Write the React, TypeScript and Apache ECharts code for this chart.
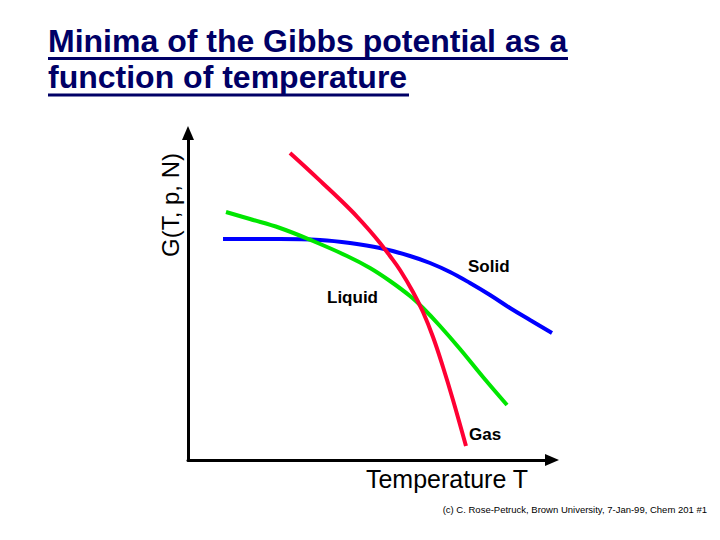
import React, { useEffect, useRef } from "react";
import * as echarts from "echarts";

// ---- data (arbitrary units) ----
const titleLines = ["Minima of the Gibbs potential as a", "function of temperature"];
const xAxisTitle = "Temperature T";
const yAxisTitle = "G(T, p, N)";
const footerText = "(c) C. Rose-Petruck, Brown University, 7-Jan-99, Chem 201 #1";
const phaseNames = ["Solid", "Liquid", "Gas"];

const gasT = [28.02, 32.69, 37.09, 41.76, 46.43, 50.0, 52.75, 55.49, 58.24, 61.81, 64.56, 67.31, 70.05, 72.8, 76.37];
const gasG = [93.88, 89.14, 84.56, 79.66, 74.46, 70.03, 66.36, 62.39, 58.1, 51.38, 45.26, 37.61, 28.44, 18.35, 4.28];

const liquidT = [10.44, 17.03, 25.27, 34.34, 43.68, 50.0, 55.49, 60.99, 64.56, 69.23, 74.73, 81.04, 87.64];
const liquidG = [75.84, 73.7, 70.95, 66.97, 62.39, 58.72, 54.74, 50.15, 46.48, 40.98, 33.94, 25.38, 16.82];

const solidT = [9.62, 25.27, 36.26, 44.51, 52.75, 60.99, 66.48, 71.98, 77.47, 82.97, 88.46, 93.96, 100.0];
const solidG = [67.58, 67.58, 67.28, 66.36, 64.83, 62.39, 60.24, 57.49, 54.13, 50.46, 46.48, 42.81, 38.84];

const FONT = '"Liberation Sans", Arial, Helvetica, sans-serif';

function pairs(xs: number[], ys: number[]) {
  return xs.map((x, i) => [x, ys[i]]);
}

export default function App() {
  const ref = useRef<HTMLDivElement>(null);

  useEffect(() => {
    if (!ref.current) return;
    const chart = echarts.init(ref.current, undefined, { renderer: "svg" });

    const axisCommon = {
      type: "value" as const,
      min: 0,
      max: 100,
      axisLine: {
        show: true,
        symbol: ["none", "triangle"],
        symbolSize: [12, 14],
        lineStyle: { color: "#000", width: 3 },
      },
      axisTick: { show: false },
      axisLabel: { show: false },
      splitLine: { show: false },
    };

    const lineSeries = (name: string, data: number[][], color: string) => ({
      type: "line" as const,
      name,
      data,
      smooth: 0.4,
      symbol: "none",
      clip: false,
      lineStyle: { color, width: 4 },
    });

    const titleColor = "#000066";

    const label = (text: string, x: number, y: number) => ({
      type: "text",
      x,
      y,
      style: {
        text,
        fontFamily: FONT,
        fontSize: 17,
        fontWeight: "bold",
        fill: "#000",
        align: "left",
        verticalAlign: "middle",
      },
    });

    chart.setOption({
      animation: false,
      grid: { left: 188, top: 133, right: 168, bottom: 80 },
      xAxis: axisCommon,
      yAxis: axisCommon,
      series: [
        lineSeries(phaseNames[0], pairs(solidT, solidG), "#0000ff"),
        lineSeries(phaseNames[1], pairs(liquidT, liquidG), "#00e600"),
        lineSeries(phaseNames[2], pairs(gasT, gasG), "#ff0033"),
      ],
      graphic: [
        {
          type: "text",
          x: 48,
          y: 41,
          style: {
            text: titleLines[0],
            fontFamily: FONT,
            fontSize: 32,
            fontWeight: "bold",
            fill: titleColor,
            align: "left",
            verticalAlign: "middle",
          },
        },
        {
          type: "text",
          x: 48,
          y: 77,
          style: {
            text: titleLines[1],
            fontFamily: FONT,
            fontSize: 32,
            fontWeight: "bold",
            fill: titleColor,
            align: "left",
            verticalAlign: "middle",
          },
        },
        {
          type: "line",
          shape: { x1: 48, y1: 58.5, x2: 568, y2: 58.5 },
          style: { stroke: titleColor, lineWidth: 3 },
        },
        {
          type: "line",
          shape: { x1: 48, y1: 95, x2: 409, y2: 95 },
          style: { stroke: titleColor, lineWidth: 3 },
        },
        {
          type: "text",
          x: 170,
          y: 205,
          rotation: Math.PI / 2,
          style: {
            text: yAxisTitle,
            fontFamily: FONT,
            fontSize: 24,
            fill: "#000",
            align: "center",
            verticalAlign: "middle",
          },
        },
        {
          type: "text",
          x: 447,
          y: 479,
          style: {
            text: xAxisTitle,
            fontFamily: FONT,
            fontSize: 25,
            fill: "#000",
            align: "center",
            verticalAlign: "middle",
          },
        },
        label(phaseNames[0], 468, 266),
        label(phaseNames[1], 327, 297),
        label(phaseNames[2], 469, 434),
        {
          type: "text",
          x: 707,
          y: 509,
          style: {
            text: footerText,
            fontFamily: FONT,
            fontSize: 9.5,
            fill: "#000",
            align: "right",
            verticalAlign: "middle",
          },
        },
      ],
    });

    return () => {
      chart.dispose();
    };
  }, []);

  return (
    <div
      ref={ref}
      style={{ position: "fixed", left: 0, top: 0, width: 720, height: 540, background: "#fff" }}
    />
  );
}
